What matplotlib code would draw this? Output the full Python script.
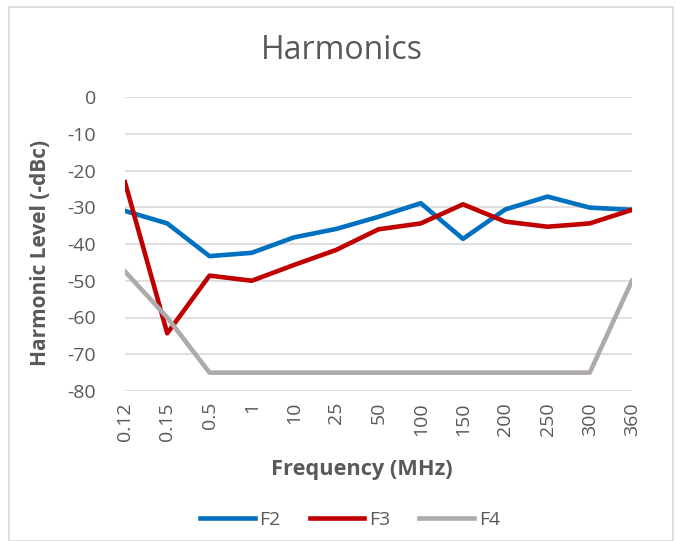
import matplotlib
matplotlib.use("Agg")
from matplotlib import pyplot as plt
from matplotlib.patches import Rectangle

# veriler
frekanslar = ["0.12", "0.15", "0.5", "1", "10", "25", "50", "100",
              "150", "200", "250", "300", "360"]
f2 = [-31, -34.4, -43.3, -42.4, -38.2, -35.9, -32.6, -28.9,
      -38.6, -30.6, -27.1, -30.1, -30.7]
f3 = [-23.2, -64.3, -48.6, -50.0, -45.7, -41.6, -36.0, -34.4,
      -29.2, -33.9, -35.3, -34.4, -30.7]
f4 = [-47.5, -60, -75, -75, -75, -75, -75, -75,
      -75, -75, -75, -75, -50]
y_ticks = [0, -10, -20, -30, -40, -50, -60, -70, -80]

plt.rcParams["font.family"] = ["Open Sans", "DejaVu Sans"]
gri = "#595959"

fig = plt.figure(figsize=(6.77, 5.41), dpi=100)
ax = fig.add_axes([125 / 677, 1 - 391 / 541, 507 / 677, 294 / 541])

x = range(len(frekanslar))
ax.plot(x, f2, color="#0070C0", lw=3.3, label="F2", solid_joinstyle="round")
ax.plot(x, f3, color="#C00000", lw=3.3, label="F3", solid_joinstyle="round")
ax.plot(x, f4, color="#AEAAAA", lw=3.3, label="F4", solid_joinstyle="round")

ax.set_xlim(0, len(frekanslar) - 1)
ax.set_ylim(-80, 0)
ax.set_xticks(list(x))
ax.set_xticklabels(frekanslar, rotation=90, fontsize=14, color=gri)
ax.set_yticks(y_ticks)
ax.set_yticklabels([str(v) for v in y_ticks], fontsize=14, color=gri)
ax.tick_params(axis="y", length=0, pad=21)
ax.tick_params(axis="x", length=0, pad=8)
ax.grid(axis="y", color="#D9D9D9", lw=1.2)
ax.set_axisbelow(True)
for s in ax.spines.values():
    s.set_visible(False)

fig.text(342 / 677, 1 - 50 / 541, "Harmonics", fontsize=23, color=gri,
         ha="center", va="center")
fig.text(362 / 677, 1 - 470 / 541, "Frequency (MHz)", fontsize=15.7, fontweight="bold",
         color=gri, ha="center", va="center")
fig.text(41 / 677, 1 - 253 / 541, "Harmonic Level (-dBc)", fontsize=15, fontweight="bold",
         color=gri, ha="center", va="center", rotation=90)

fig.legend(loc="center", bbox_to_anchor=(350 / 677, 1 - 520 / 541), ncol=3, frameon=False,
           fontsize=14, labelcolor=gri, handlelength=2.8, columnspacing=1.5,
           handletextpad=0.25)

fig.patches.append(Rectangle((9 / 677, 0), 664 / 677, 1 - 7 / 541, transform=fig.transFigure,
                             fill=False, edgecolor="#D9D9D9", lw=1.2))

plt.savefig("out.png", dpi=100)
